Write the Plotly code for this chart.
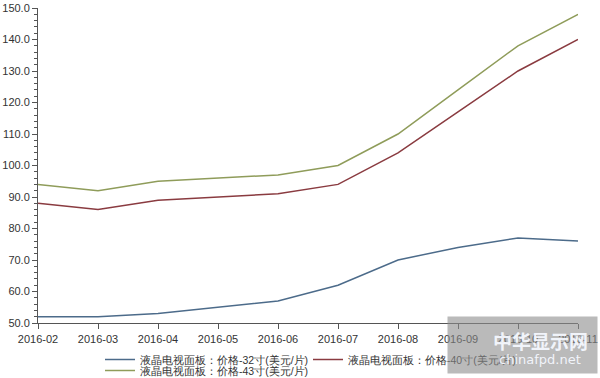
import plotly.graph_objects as go

months = ["2016-02", "2016-03", "2016-04", "2016-05", "2016-06",
          "2016-07", "2016-08", "2016-09", "2016-10", "2016-11"]
price_32 = [52, 52, 53, 55, 57, 62, 70, 74, 77, 76]
price_40 = [88, 86, 89, 90, 91, 94, 104, 117, 130, 140]
price_43 = [94, 92, 95, 96, 97, 100, 110, 124, 138, 148]
names = ["液晶电视面板：价格-32寸(美元/片)",
         "液晶电视面板：价格-40寸(美元/片)",
         "液晶电视面板：价格-43寸(美元/片)"]
colors = ["#4c6b8a", "#8a3b40", "#8f9c5a"]

W, H = 600, 378
FONT = "Liberation Sans, Arial, sans-serif"

fig = go.Figure()
series = [price_32, price_40, price_43]
legends = ["legend", "legend", "legend2"]
for vals, nm, c, lg in zip(series, names, colors, legends):
    fig.add_trace(go.Scatter(x=months, y=vals, name=nm, mode="lines",
                             line=dict(color=c, width=1.5), legend=lg))

axis_col = "#555555"
fig.update_layout(
    width=W, height=H,
    margin=dict(l=38, r=22, t=8, b=55, autoexpand=False),
    paper_bgcolor="white", plot_bgcolor="white",
    font=dict(family=FONT, size=11, color="#333333"),
    xaxis=dict(type="category", range=[0, 9], showgrid=False, zeroline=False,
               showline=True, linecolor=axis_col, linewidth=1,
               ticks="outside", ticklen=5, tickcolor=axis_col,
               ticklabelstandoff=1, automargin=False,
               tickfont=dict(size=11, color="#333333")),
    yaxis=dict(range=[50, 150], dtick=10, tickformat=".1f", showgrid=False,
               zeroline=False, showline=True, linecolor=axis_col, linewidth=1,
               ticks="outside", ticklen=5, tickcolor=axis_col, automargin=False,
               tickfont=dict(size=11, color="#333333"),
               minor=dict(dtick=2, ticks="outside", ticklen=3, tickcolor=axis_col)),
    legend=dict(orientation="h", xref="container", yref="container",
                x=100 / W, y=1 - 345 / H, xanchor="left", yanchor="top",
                entrywidth=163, entrywidthmode="pixels",
                font=dict(size=10.5, color="#333333"), bgcolor="rgba(0,0,0,0)",
                itemwidth=30, tracegroupgap=0),
    legend2=dict(orientation="h", xref="container", yref="container",
                 x=100 / W, y=1 - 356 / H, xanchor="left", yanchor="top",
                 font=dict(size=10.5, color="#333333"), bgcolor="rgba(0,0,0,0)",
                 itemwidth=30),
    showlegend=True,
)

# watermark box (semi-transparent, as in the reference image)
px = lambda v: (v - 38) / 540
py = lambda v: -(v - 323) / 315
fig.add_annotation(xref="paper", yref="paper", x=px(522), y=py(345),
                   xanchor="center", yanchor="middle", text=" ", showarrow=False,
                   width=147, height=54, bgcolor="rgba(140,140,140,0.6)")
fig.add_annotation(xref="paper", yref="paper", x=px(540), y=py(340),
                   xanchor="center", yanchor="middle", text="<b>中华显示网</b>",
                   showarrow=False,
                   font=dict(family="Noto Sans CJK SC", size=19, color="rgba(245,248,255,0.95)"))
fig.add_annotation(xref="paper", yref="paper", x=px(540), y=py(359),
                   xanchor="center", yanchor="middle", text="chinafpd.net",
                   showarrow=False,
                   font=dict(family="DejaVu Sans", size=13, color="rgba(245,248,255,0.95)"))

fig.write_html("out.html")
